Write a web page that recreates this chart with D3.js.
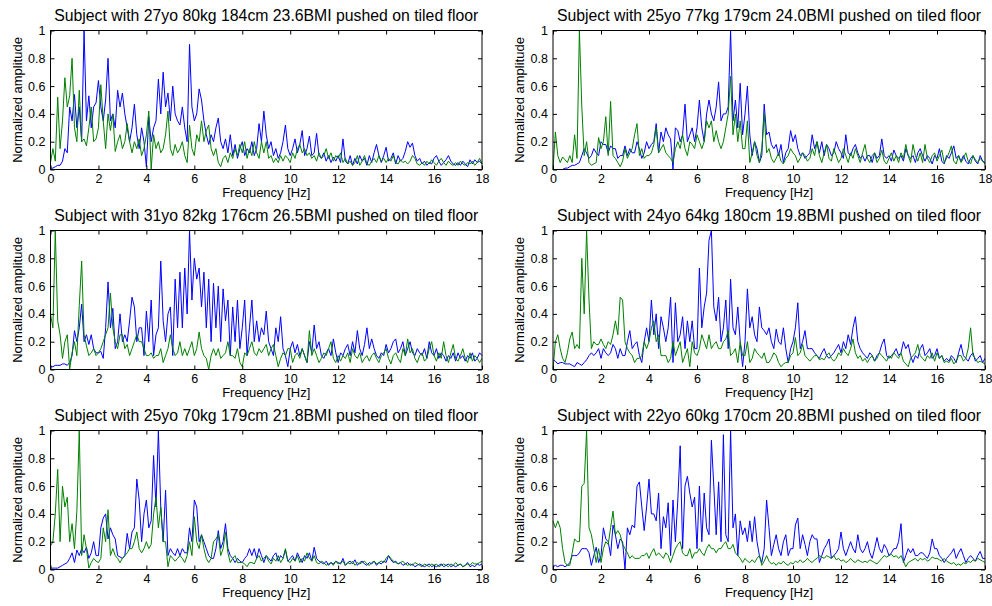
<!DOCTYPE html>
<html>
<head>
<meta charset="utf-8">
<script src="https://cdn.jsdelivr.net/npm/d3@7"></script>
<style>
  body { margin: 0; background: #fff; }
  svg { display: block; font-family: "Liberation Sans", Arial, sans-serif; }
</style>
</head>
<body>
<div id="chart"></div>
<script>
// frequency grid, 0..18 Hz in 0.1 Hz steps
const freq = d3.range(181).map(i => i / 10);
const xTicks = [0, 2, 4, 6, 8, 10, 12, 14, 16, 18];
const yTicks = [0, 0.2, 0.4, 0.6, 0.8, 1];

const titles = [
  "Subject with 27yo 80kg 184cm 23.6BMI pushed on tiled floor",
  "Subject with 25yo 77kg 179cm 24.0BMI pushed on tiled floor",
  "Subject with 31yo 82kg 176cm 26.5BMI pushed on tiled floor",
  "Subject with 24yo 64kg 180cm 19.8BMI pushed on tiled floor",
  "Subject with 25yo 70kg 179cm 21.8BMI pushed on tiled floor",
  "Subject with 22yo 60kg 170cm 20.8BMI pushed on tiled floor"
];

const blue1 = [
  .01,.01,.02,.03,.03,.06,.15,.12,.45,.35,
  .54,.30,.45,.20,1.0,.35,.53,.30,.45,.48,
  .64,.45,.35,.50,.80,.35,.40,.30,.57,.45,
  .55,.40,.30,.20,.30,.47,.25,.15,.30,.20,
  .02,.38,.20,.30,.35,.65,.40,.70,.45,.55,
  .35,.60,.40,.35,.32,.45,.30,.20,.90,.45,
  .35,.40,.58,.50,.35,.25,.18,.25,.20,.30,
  .37,.20,.15,.22,.12,.25,.10,.18,.08,.15,
  .20,.10,.15,.12,.20,.10,.15,.33,.20,.42,
  .25,.15,.20,.10,.15,.08,.12,.20,.32,.15,
  .10,.15,.22,.12,.18,.28,.10,.15,.24,.10,
  .12,.26,.10,.08,.12,.06,.10,.05,.09,.06,
  .10,.05,.22,.06,.04,.10,.03,.08,.04,.10,
  .06,.08,.03,.10,.05,.12,.18,.10,.05,.10,
  .16,.06,.08,.12,.04,.10,.06,.08,.13,.20,
  .16,.19,.10,.06,.08,.04,.06,.03,.05,.04,
  .08,.10,.06,.03,.05,.07,.10,.06,.04,.03,
  .05,.03,.06,.04,.02,.07,.04,.07,.05,.06,
  .04
];
const green1 = [
  .05,.15,.06,.52,.15,.35,.66,.45,.53,.80,
  .30,.20,.57,.20,.22,.17,.30,.45,.20,.22,
  .30,.61,.35,.15,.40,.28,.40,.13,.20,.25,
  .15,.20,.33,.20,.12,.20,.15,.22,.10,.15,
  .25,.42,.00,.25,.15,.20,.12,.15,.25,.42,
  .15,.10,.18,.12,.15,.20,.10,.05,.32,.15,
  .10,.25,.20,.35,.20,.28,.32,.15,.10,.15,
  .05,.02,.08,.10,.05,.12,.08,.15,.10,.18,
  .12,.20,.08,.15,.10,.20,.12,.08,.20,.12,
  .20,.08,.10,.05,.08,.05,.10,.06,.10,.08,
  .05,.12,.08,.15,.18,.12,.15,.10,.12,.08,
  .10,.06,.12,.08,.10,.15,.08,.12,.06,.10,
  .08,.12,.05,.08,.04,.06,.03,.05,.10,.03,
  .06,.10,.04,.03,.06,.08,.05,.10,.06,.08,
  .05,.08,.06,.10,.05,.04,.07,.05,.06,.04,
  .06,.10,.08,.04,.03,.05,.03,.06,.04,.07,
  .05,.03,.06,.08,.05,.03,.06,.04,.03,.05,
  .03,.06,.04,.03,.05,.04,.06,.03,.05,.08,
  .04
];

const blue2 = [
  .00,.00,.00,.00,.00,.01,.01,.02,.03,.03,
  .04,.05,.10,.15,.12,.08,.10,.15,.12,.10,
  .20,.18,.18,.12,.17,.15,.15,.08,.10,.10,
  .17,.10,.15,.12,.12,.20,.15,.08,.12,.20,
  .15,.18,.20,.33,.12,.27,.20,.30,.25,.22,
  .00,.30,.28,.20,.25,.47,.20,.25,.30,.20,
  .30,.50,.30,.20,.40,.50,.40,.35,.45,.63,
  .35,.40,.40,.45,1.0,.35,.50,.30,.62,.25,
  .40,.60,.25,.10,.20,.15,.05,.10,.47,.25,
  .27,.18,.15,.18,.10,.18,.05,.12,.15,.28,
  .20,.25,.15,.10,.12,.08,.10,.12,.25,.15,
  .20,.12,.20,.10,.18,.15,.10,.12,.20,.15,
  .12,.08,.25,.12,.10,.15,.18,.12,.08,.10,
  .06,.10,.10,.05,.12,.08,.10,.22,.10,.08,
  .10,.06,.14,.10,.08,.10,.06,.15,.10,.08,
  .10,.05,.12,.15,.10,.06,.10,.08,.04,.10,
  .08,.15,.06,.04,.10,.08,.12,.17,.08,.10,
  .06,.10,.06,.04,.08,.10,.06,.04,.10,.06,
  .05
];
const green2 = [
  .00,.27,.10,.05,.09,.07,.05,.10,.05,.25,
  .08,1.0,.45,.10,.20,.05,.03,.04,.05,.23,
  .15,.20,.38,.10,.49,.10,.08,.05,.02,.06,
  .15,.08,.12,.15,.25,.33,.10,.15,.08,.10,
  .10,.12,.18,.30,.12,.15,.18,.12,.10,.08,
  .05,.15,.20,.15,.25,.15,.10,.20,.18,.15,
  .25,.20,.15,.20,.35,.30,.35,.20,.28,.20,
  .15,.20,.30,.40,.67,.25,.40,.20,.35,.15,
  .15,.35,.05,.12,.20,.10,.05,.15,.40,.12,
  .15,.08,.05,.08,.12,.06,.04,.08,.10,.15,
  .12,.10,.05,.08,.12,.10,.06,.08,.15,.10,
  .20,.10,.05,.12,.18,.08,.06,.15,.10,.05,
  .08,.15,.10,.05,.12,.08,.15,.10,.05,.12,
  .18,.08,.05,.10,.12,.05,.08,.14,.06,.04,
  .08,.12,.06,.10,.05,.12,.08,.18,.10,.05,
  .18,.10,.06,.12,.05,.18,.08,.05,.10,.12,
  .06,.10,.14,.05,.08,.12,.17,.06,.04,.10,
  .05,.08,.12,.06,.04,.10,.07,.05,.08,.06,
  .04
];

const blue3 = [
  .02,.02,.03,.03,.03,.04,.04,.03,.05,.10,
  .28,.20,.30,.47,.20,.25,.18,.25,.15,.12,
  .12,.13,.08,.30,.63,.30,.44,.15,.20,.40,
  .20,.25,.20,.35,.52,.45,.20,.30,.30,.10,
  .42,.20,.50,.10,.25,.30,.78,.35,.20,.40,
  .45,.10,.65,.30,.70,.30,.73,.40,1.0,.50,
  .80,.65,.73,.45,.70,.30,.65,.20,.62,.30,
  .60,.20,.58,.35,.50,.10,.45,.20,.50,.15,
  .30,.50,.10,.30,.50,.20,.35,.20,.30,.25,
  .42,.20,.15,.10,.30,.20,.38,.15,.10,.02,
  .15,.20,.12,.18,.10,.15,.10,.05,.20,.12,
  .32,.15,.20,.10,.08,.12,.15,.10,.22,.12,
  .05,.12,.10,.15,.18,.10,.20,.12,.28,.15,
  .10,.18,.30,.15,.22,.15,.10,.08,.12,.10,
  .18,.12,.15,.20,.22,.12,.15,.20,.10,.15,
  .20,.12,.10,.15,.12,.10,.15,.08,.20,.12,
  .10,.15,.08,.12,.10,.06,.10,.08,.12,.06,
  .12,.08,.10,.06,.10,.08,.12,.06,.08,.12,
  .10
];
const green3 = [
  .40,.30,1.0,.35,.25,.08,.20,.25,.00,.12,
  .20,.10,.46,.78,.25,.17,.10,.12,.15,.10,
  .12,.15,.20,.25,.30,.55,.30,.20,.15,.25,
  .25,.15,.18,.10,.15,.20,.25,.20,.20,.15,
  .10,.10,.12,.08,.10,.10,.15,.05,.10,.15,
  .25,.15,.10,.12,.20,.10,.15,.10,.15,.20,
  .10,.15,.27,.15,.10,.08,.00,.10,.15,.10,
  .15,.08,.10,.12,.20,.10,.10,.08,.15,.05,
  .02,.12,.10,.15,.20,.12,.10,.15,.12,.15,
  .18,.10,.15,.18,.10,.02,.08,.12,.10,.15,
  .15,.05,.10,.12,.08,.15,.10,.05,.28,.10,
  .15,.10,.05,.08,.12,.10,.15,.20,.08,.05,
  .10,.06,.10,.08,.12,.05,.15,.10,.08,.12,
  .05,.08,.10,.06,.10,.12,.08,.05,.10,.12,
  .15,.08,.04,.10,.12,.08,.05,.15,.10,.22,
  .12,.15,.08,.05,.10,.12,.06,.08,.15,.20,
  .10,.06,.12,.08,.20,.10,.05,.12,.18,.08,
  .06,.10,.15,.08,.05,.12,.06,.10,.08,.05,
  .08
];

const blue4 = [
  .07,.06,.04,.05,.05,.04,.04,.04,.03,.02,
  .05,.04,.03,.05,.07,.10,.12,.10,.12,.15,
  .08,.15,.12,.10,.12,.18,.15,.08,.15,.10,
  .10,.20,.28,.15,.18,.20,.10,.05,.20,.30,
  .20,.50,.25,.40,.15,.38,.30,.20,.30,.52,
  .05,.48,.20,.25,.38,.15,.35,.20,.35,.15,
  .15,.73,.30,.45,.55,.93,1.0,.45,.35,.52,
  .20,.30,.50,.15,.65,.30,.25,.45,.20,.02,
  .20,.58,.30,.38,.25,.20,.45,.30,.28,.25,
  .30,.20,.15,.29,.20,.18,.30,.15,.05,.15,
  .20,.30,.48,.15,.20,.28,.15,.15,.15,.12,
  .10,.08,.12,.15,.10,.08,.10,.12,.15,.18,
  .12,.20,.15,.25,.18,.30,.38,.20,.15,.12,
  .10,.08,.12,.10,.06,.10,.12,.18,.22,.10,
  .08,.10,.12,.15,.10,.12,.20,.15,.18,.10,
  .05,.10,.08,.15,.18,.10,.12,.15,.08,.10,
  .15,.08,.10,.06,.08,.06,.10,.08,.05,.12,
  .18,.10,.08,.06,.10,.12,.06,.08,.10,.05,
  .08
];
const green4 = [
  .00,.20,.25,.15,.08,.05,.12,.22,.27,.15,
  .18,.15,.80,.40,1.0,.50,.15,.20,.18,.18,
  .22,.18,.15,.20,.18,.25,.35,.25,.52,.50,
  .20,.15,.12,.10,.05,.08,.08,.10,.20,.15,
  .20,.30,.35,.20,.25,.10,.10,.10,.05,.08,
  .20,.10,.15,.20,.05,.10,.15,.02,.20,.12,
  .10,.15,.25,.20,.15,.25,.15,.18,.20,.15,
  .15,.20,.22,.28,.10,.12,.15,.05,.20,.10,
  .10,.20,.05,.08,.15,.12,.10,.08,.12,.05,
  .05,.08,.12,.10,.05,.02,.04,.05,.05,.10,
  .12,.23,.10,.12,.18,.10,.08,.06,.08,.10,
  .10,.07,.08,.07,.10,.12,.08,.06,.08,.12,
  .10,.15,.12,.10,.15,.22,.12,.08,.10,.06,
  .08,.05,.08,.10,.06,.08,.12,.10,.08,.06,
  .10,.08,.12,.10,.08,.12,.06,.04,.02,.08,
  .10,.12,.18,.10,.08,.06,.10,.08,.12,.06,
  .12,.08,.10,.05,.06,.05,.08,.04,.06,.10,
  .10,.06,.08,.15,.30,.10,.08,.05,.06,.05,
  .04
];

const blue5 = [
  .01,.01,.01,.01,.02,.03,.04,.05,.08,.12,
  .05,.14,.10,.15,.12,.16,.08,.12,.20,.10,
  .10,.30,.37,.40,.22,.30,.25,.22,.10,.09,
  .08,.10,.26,.15,.27,.30,.65,.50,.20,.40,
  .50,.30,.35,.82,.45,1.0,.45,.20,.57,.10,
  .15,.12,.10,.15,.10,.15,.12,.12,.30,.20,
  .50,.45,.20,.25,.20,.15,.10,.08,.08,.15,
  .28,.15,.20,.33,.15,.10,.08,.05,.08,.06,
  .05,.08,.10,.15,.10,.15,.08,.15,.10,.05,
  .10,.08,.06,.10,.12,.06,.10,.08,.14,.06,
  .08,.10,.06,.12,.08,.05,.10,.08,.12,.06,
  .16,.08,.06,.05,.04,.06,.03,.05,.04,.06,
  .05,.04,.08,.03,.05,.06,.04,.07,.03,.05,
  .06,.04,.03,.05,.04,.06,.03,.05,.04,.06,
  .05,.10,.07,.05,.06,.04,.05,.03,.04,.05,
  .03,.04,.02,.03,.04,.03,.02,.03,.04,.02,
  .03,.02,.03,.04,.02,.03,.04,.02,.03,.02,
  .03,.04,.02,.03,.05,.02,.03,.02,.04,.03,
  .04
];
const green5 = [
  .17,.20,.40,.72,.20,.60,.45,.52,.20,.33,
  .15,.42,1.0,.10,.25,.15,.01,.05,.08,.06,
  .05,.08,.30,.20,.43,.10,.15,.10,.08,.05,
  .08,.10,.12,.15,.15,.20,.27,.15,.12,.15,
  .20,.15,.18,.40,.52,.30,.45,.20,.20,.02,
  .10,.08,.06,.08,.10,.08,.05,.10,.20,.10,
  .38,.20,.15,.25,.15,.08,.05,.08,.20,.22,
  .25,.10,.15,.27,.12,.05,.08,.10,.05,.05,
  .05,.04,.02,.05,.05,.04,.08,.10,.06,.08,
  .10,.06,.04,.08,.06,.10,.05,.08,.15,.06,
  .05,.08,.06,.10,.05,.08,.06,.12,.08,.06,
  .10,.05,.04,.06,.05,.03,.04,.05,.03,.06,
  .04,.05,.06,.03,.05,.04,.06,.03,.05,.04,
  .05,.06,.04,.03,.05,.06,.04,.05,.06,.05,
  .08,.10,.08,.06,.05,.04,.05,.06,.04,.03,
  .04,.03,.05,.04,.03,.02,.04,.03,.02,.04,
  .03,.04,.02,.03,.04,.03,.02,.04,.03,.05,
  .03,.04,.02,.03,.04,.03,.05,.04,.04,.05,
  .06
];

const blue6 = [
  .02,.03,.02,.03,.03,.02,.03,.05,.10,.10,
  .10,.12,.15,.15,.15,.12,.03,.10,.16,.05,
  .10,.30,.22,.20,.10,.32,.25,.15,.22,.20,
  .00,.30,.25,.32,.30,.60,.63,.45,.28,.45,
  .65,.40,.40,.35,.55,.15,.38,.30,.48,.10,
  .50,.20,.50,.89,.15,.60,.67,.55,.45,.52,
  .15,.60,.20,.55,.30,.25,.93,.60,.25,.63,
  .20,.97,.25,.20,1.0,.30,.40,.10,.35,.25,
  .30,.20,.35,.20,.38,.20,.10,.05,.15,.50,
  .30,.10,.18,.25,.15,.10,.20,.25,.10,.15,
  .15,.32,.37,.15,.25,.18,.10,.20,.25,.22,
  .22,.05,.10,.15,.18,.22,.08,.10,.12,.15,
  .27,.15,.10,.15,.20,.15,.12,.25,.15,.12,
  .15,.20,.12,.08,.15,.23,.15,.12,.18,.15,
  .10,.12,.15,.15,.20,.33,.05,.10,.15,.12,
  .15,.10,.10,.12,.12,.10,.08,.12,.22,.15,
  .15,.10,.08,.05,.08,.10,.12,.15,.08,.12,
  .15,.10,.05,.08,.10,.08,.06,.10,.13,.08,
  .08
];
const green6 = [
  .35,.30,.35,.30,.15,.05,.03,.03,.12,.22,
  .20,.20,.60,.62,1.0,.30,.25,.15,.05,.15,
  .05,.15,.20,.18,.30,.42,.25,.28,.25,.18,
  .15,.12,.08,.10,.08,.08,.08,.10,.10,.12,
  .08,.12,.15,.10,.12,.10,.08,.12,.10,.05,
  .10,.15,.18,.20,.12,.10,.10,.15,.08,.12,
  .12,.15,.12,.10,.15,.18,.15,.15,.12,.15,
  .15,.18,.20,.15,.15,.18,.12,.10,.08,.05,
  .08,.06,.05,.07,.05,.08,.10,.03,.06,.10,
  .06,.04,.05,.03,.05,.04,.06,.04,.03,.05,
  .04,.06,.05,.07,.05,.06,.08,.06,.05,.07,
  .08,.10,.09,.08,.10,.09,.08,.10,.07,.08,
  .06,.07,.05,.06,.08,.06,.05,.07,.06,.05,
  .06,.05,.07,.06,.05,.04,.06,.08,.10,.09,
  .10,.11,.09,.10,.08,.10,.06,.02,.05,.06,
  .07,.08,.06,.08,.07,.08,.06,.07,.09,.08,
  .08,.07,.06,.08,.06,.05,.04,.05,.03,.04,
  .03,.05,.04,.06,.05,.07,.06,.08,.07,.06,
  .05
];

const blues = [blue1, blue2, blue3, blue4, blue5, blue6];
const greens = [green1, green2, green3, green4, green5, green6];

// layout of the 3x2 grid of axes
const colX = [[50.5, 482], [553, 985]];
const rowY = [[30.5, 169.5], [230.5, 369.5], [430.5, 569.5]];

const svg = d3.select("#chart").append("svg")
    .attr("width", 992).attr("height", 606);
svg.append("rect").attr("width", 992).attr("height", 606).attr("fill", "#fff");

titles.forEach((title, i) => {
    let col = i % 2, row = Math.floor(i / 2);
    let x = d3.scaleLinear().domain([0, 18]).range(colX[col]);
    let y = d3.scaleLinear().domain([0, 1]).range([rowY[row][1], rowY[row][0]]);
    let g = svg.append("g").attr("class", "panel");

    // lines first, axes box on top
    let line = d3.line().x((d, k) => x(freq[k])).y(d => y(d));
    g.append("path").datum(blues[i]).attr("d", line)
        .attr("fill", "none").attr("stroke", "#0000ff").attr("stroke-width", 1);
    g.append("path").datum(greens[i]).attr("d", line)
        .attr("fill", "none").attr("stroke", "#008000").attr("stroke-width", 1);

    let fmt = d => d === 0 ? "0" : d === 1 ? "1" : d3.format(".1f")(d);
    let bottom = g.append("g").attr("transform", "translate(0," + y(0) + ")")
        .call(d3.axisBottom(x).tickValues(xTicks).tickSizeInner(-4).tickSizeOuter(0).tickPadding(5));
    let top = g.append("g").attr("transform", "translate(0," + y(1) + ")")
        .call(d3.axisTop(x).tickValues(xTicks).tickSizeInner(-4).tickSizeOuter(0).tickFormat(""));
    let left = g.append("g").attr("transform", "translate(" + x(0) + ",0)")
        .call(d3.axisLeft(y).tickValues(yTicks).tickSizeInner(-4).tickSizeOuter(0).tickPadding(5).tickFormat(fmt));
    let right = g.append("g").attr("transform", "translate(" + x(18) + ",0)")
        .call(d3.axisRight(y).tickValues(yTicks).tickSizeInner(-4).tickSizeOuter(0).tickFormat(""));
    [bottom, top, left, right].forEach(a => {
        a.select(".domain").remove();
        a.selectAll("line").attr("stroke", "#000");
        a.selectAll("text").attr("fill", "#000").style("font-size", "12.5px")
            .style("font-family", "'Liberation Sans', Arial, sans-serif");
    });

    g.append("rect").attr("x", x(0)).attr("y", y(1))
        .attr("width", x(18) - x(0)).attr("height", y(0) - y(1))
        .attr("fill", "none").attr("stroke", "#000").attr("stroke-width", 1);

    g.append("text").text(title)
        .attr("x", (x(0) + x(18)) / 2).attr("y", y(1) - 10)
        .attr("text-anchor", "middle").attr("style", "font-size: 15.8px");
    g.append("text").text("Frequency [Hz]")
        .attr("x", (x(0) + x(18)) / 2).attr("y", y(0) + 27)
        .attr("text-anchor", "middle").attr("style", "font-size: 13px");
    g.append("text").text("Normalized amplitude")
        .attr("transform", "translate(" + (x(0) - 29) + "," + ((y(0) + y(1)) / 2) + ") rotate(-90)")
        .attr("text-anchor", "middle").attr("style", "font-size: 13px");
});
</script>
</body>
</html>
